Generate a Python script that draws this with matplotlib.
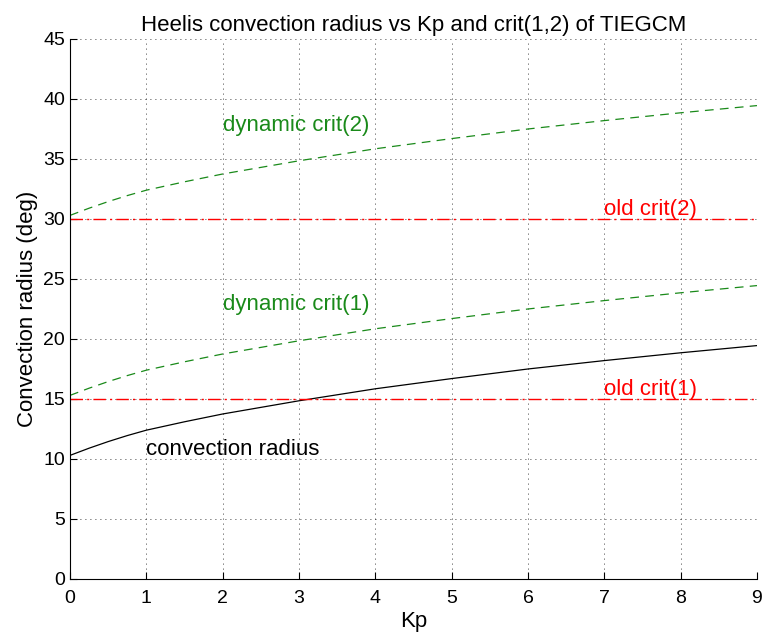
import numpy as np
import matplotlib; matplotlib.use('Agg')
import matplotlib.pyplot as plt

plt.rcParams['font.family'] = ['Liberation Sans', 'DejaVu Sans']

# values
kp = [0, 0.25, 0.5, 0.75, 1, 1.5, 2, 2.5, 3, 3.5, 4, 5, 6, 7, 8, 9]
conv_radius = [10.3, 10.9, 11.45, 11.95, 12.4, 13.1, 13.75, 14.3, 14.85, 15.35,
               15.85, 16.7, 17.5, 18.2, 18.85, 19.45]
dyn_crit1 = [15.3, 15.9, 16.45, 16.95, 17.4, 18.1, 18.75, 19.3, 19.85, 20.35,
             20.85, 21.7, 22.5, 23.2, 23.85, 24.45]
dyn_crit2 = [30.3, 30.9, 31.45, 31.95, 32.4, 33.1, 33.75, 34.3, 34.85, 35.35,
             35.85, 36.7, 37.5, 38.2, 38.85, 39.45]
old_crit1 = 15
old_crit2 = 30

fig = plt.figure(figsize=(7.62, 6.32), dpi=100)
ax = fig.add_axes([0.0919, 0.0839, 0.9015, 0.8544])

green = '#1a8a1a'
ax.plot(kp, conv_radius, color='k', lw=0.9)
ax.plot(kp, dyn_crit1, color=green, lw=0.9, ls=(0, (7, 5)))
ax.plot(kp, dyn_crit2, color=green, lw=0.9, ls=(0, (7, 5)))
ax.axhline(old_crit1, color='r', lw=1.0, ls=(0, (9, 3, 1.5, 3)))
ax.axhline(old_crit2, color='r', lw=1.0, ls=(0, (9, 3, 1.5, 3)))

fs = 16
ax.text(2, 37.8, 'dynamic crit(2)', color=green, fontsize=fs, va='center')
ax.text(2, 22.9, 'dynamic crit(1)', color=green, fontsize=fs, va='center')
ax.text(7, 30.8, 'old crit(2)', color='r', fontsize=fs, va='center')
ax.text(7, 15.8, 'old crit(1)', color='r', fontsize=fs, va='center')
ax.text(1, 10.8, 'convection radius', color='k', fontsize=fs, va='center')

ax.set_xlim(0, 9)
ax.set_ylim(0, 45)
ax.set_xticks(range(0, 10))
ax.set_yticks(range(0, 46, 5))
ax.grid(True, color='k', ls=(0, (1, 5)), lw=0.6)
ax.spines['top'].set_visible(False)
ax.spines['right'].set_visible(False)
ax.tick_params(direction='in', length=5, labelsize=14, width=0.8)
ax.tick_params(axis='x', pad=8)
ax.set_xlabel('Kp', fontsize=16, labelpad=3)
ax.set_ylabel('Convection radius (deg)', fontsize=16, labelpad=4)
ax.set_title('Heelis convection radius vs Kp and crit(1,2) of TIEGCM', fontsize=16)

fig.savefig('out.png', dpi=100)
